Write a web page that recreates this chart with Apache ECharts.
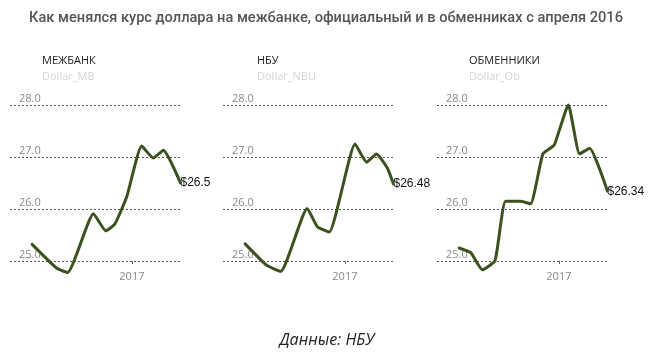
<!DOCTYPE html>
<html><head><meta charset="utf-8">
<script src="https://cdn.jsdelivr.net/npm/echarts@6/dist/echarts.min.js"></script>
<style>html,body{margin:0;padding:0;background:#fff}#c{width:670px;height:358px}</style>
</head><body><div id="c"></div>
<script>
// ---- text ----
const titleText = 'Как менялся курс доллара на межбанке, официальный и в обменниках с апреля 2016';
const footerText = 'Данные: НБУ';
const panelNames = ['МЕЖБАНК', 'НБУ', 'ОБМЕННИКИ'];
const panelFields = ['Dollar_MB', 'Dollar_NBU', 'Dollar_Ob'];

// ---- axes ----
const yTicks = [25, 26, 27, 28];
const xStart = '2016-01-31';
const xEnd = '2017-05-15';
const xTickDate = '2017-01-01';

// ---- data ----
const mbDates = ['2016-04-01','2016-06-08','2016-07-08','2016-09-17','2016-10-21','2016-11-15','2016-12-18','2017-01-28','2017-03-01','2017-03-29','2017-05-15'];
const mbValues = [25.32, 24.86, 24.78, 25.91, 25.58, 25.71, 26.24, 27.21, 26.98, 27.13, 26.5];

const nbuDates = ['2016-04-01','2016-05-30','2016-07-08','2016-09-19','2016-10-17','2016-11-19','2017-01-29','2017-03-02','2017-03-29','2017-04-28','2017-05-15'];
const nbuValues = [25.33, 24.92, 24.80, 26.01, 25.66, 25.56, 27.25, 26.90, 27.06, 26.79, 26.48];

const obDates = ['2016-04-01','2016-05-03','2016-06-04','2016-07-09','2016-08-07','2016-09-18','2016-10-15','2016-11-18','2016-12-19','2017-01-27','2017-02-27','2017-03-27','2017-05-15'];
const obValues = [25.25, 25.16, 24.83, 25.01, 26.15, 26.15, 26.10, 27.06, 27.23, 28.0, 27.06, 27.17, 26.34];

const panelDates = [mbDates, nbuDates, obDates];
const panelValues = [mbValues, nbuValues, obValues];

// ---- layout ----
const gridLefts = [10, 223, 437];
const gridWidth = 170.5;
const titleX = [42, 257, 469];
const lineColor = '#3b5220';

const ts = d => echarts.time.parse(d).getTime();
const jan = ts(xTickDate);

const grids = [], xAxes = [], yAxes = [], series = [], graphics = [];
for (let i = 0; i < 3; i++) {
  grids.push({ left: gridLefts[i], width: gridWidth, top: 105, height: 156, containLabel: false });
  xAxes.push({
    type: 'value', gridIndex: i, min: ts(xStart), max: ts(xEnd),
    axisLine: { show: false },
    axisTick: { show: true, customValues: [jan], length: 3, lineStyle: { color: '#666' } },
    axisLabel: { customValues: [jan], formatter: v => String(new Date(v).getFullYear()),
      color: '#888', fontSize: 11, fontFamily: 'Open Sans', margin: 10 },
    splitLine: { show: false }
  });
  yAxes.push({
    type: 'value', gridIndex: i, min: yTicks[0], max: yTicks[yTicks.length - 1], interval: 1,
    axisLine: { show: false }, axisTick: { show: false },
    axisLabel: { inside: true, margin: 9, verticalAlign: 'bottom', formatter: v => v.toFixed(1),
      color: '#888', fontSize: 11, fontFamily: 'Open Sans', padding: [0, 0, 1, 0] },
    splitLine: { show: true, lineStyle: { type: [2, 2], color: '#555', width: 1 } }
  });
  series.push({
    type: 'line', xAxisIndex: i, yAxisIndex: i,
    data: panelDates[i].map((d, k) => [ts(d), panelValues[i][k]]),
    showSymbol: false, clip: false, smooth: 0.15,
    lineStyle: { color: lineColor, width: 3, join: 'round', cap: 'round' },
    itemStyle: { color: lineColor },
    endLabel: { show: true, formatter: p => '$' + p.value[1], color: '#111', fontSize: 12,
      fontFamily: 'Liberation Sans', distance: 0 },
    emphasis: { disabled: true }
  });
  graphics.push({ type: 'text', x: titleX[i], y: 61,
    style: { text: panelNames[i], font: '11px "Open Sans"', fill: '#222', textVerticalAlign: 'middle' } });
  graphics.push({ type: 'text', x: titleX[i], y: 77,
    style: { text: panelFields[i], font: '11px "Open Sans"', fill: '#d4d4d4', textVerticalAlign: 'middle' } });
}
graphics.push({ type: 'text', x: 326, y: 18,
  style: { text: titleText, font: '500 14.6px Roboto', fill: '#555', textAlign: 'center', textVerticalAlign: 'middle' } });
graphics.push({ type: 'text', x: 327, y: 340,
  style: { text: footerText, font: 'italic 16px "Open Sans"', fill: '#222', textAlign: 'center', textVerticalAlign: 'middle' } });

const chart = echarts.init(document.getElementById('c'), null, { renderer: 'canvas' });
chart.setOption({
  animation: false,
  backgroundColor: '#fff',
  grid: grids, xAxis: xAxes, yAxis: yAxes, series: series, graphic: graphics
});
</script></body></html>
